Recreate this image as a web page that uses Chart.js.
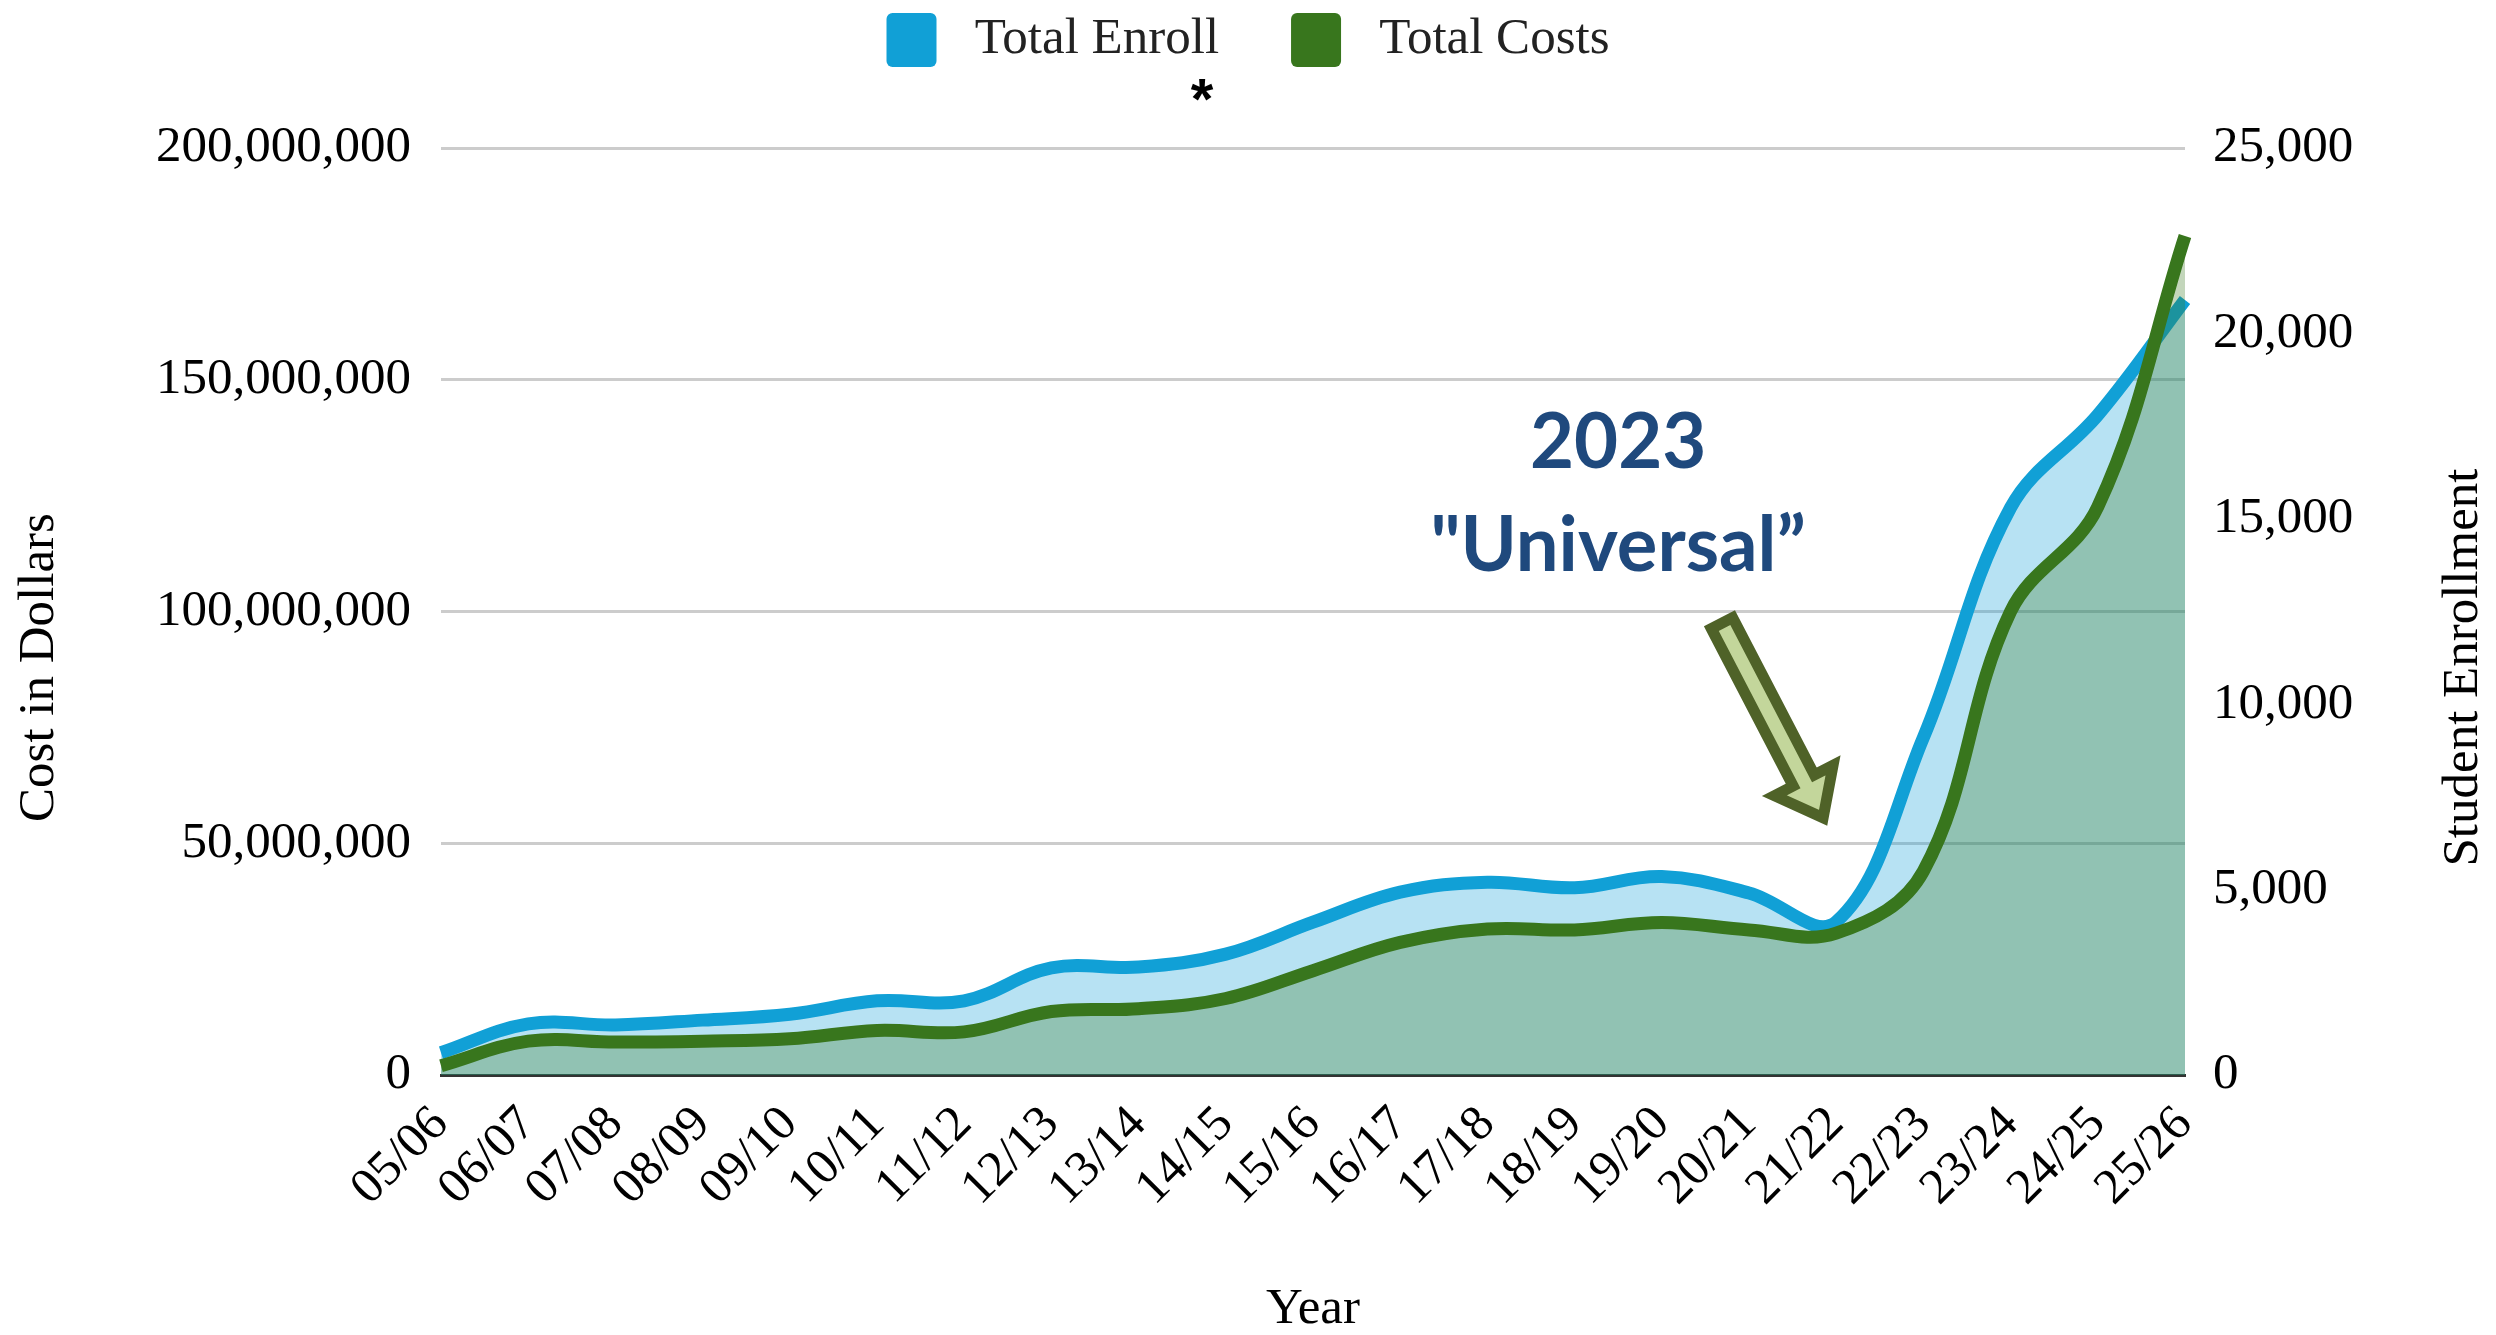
<!DOCTYPE html>
<html>
<head>
<meta charset="utf-8">
<script src="https://cdn.jsdelivr.net/npm/chart.js@4.4.1/dist/chart.umd.min.js"></script>
<style>
  html, body { margin: 0; padding: 0; background: #fff; }
</style>
</head>
<body>
<canvas id="chart" width="2496" height="1335"></canvas>
<script>
const years = ['05/06', '06/07', '07/08', '08/09', '09/10', '10/11', '11/12', '12/13', '13/14', '14/15',
  '15/16', '16/17', '17/18', '18/19', '19/20', '20/21', '21/22', '22/23', '23/24', '24/25', '25/26'];
const totalEnroll = [600, 1380, 1350, 1480, 1640, 2000, 2000, 2890, 2910, 3260,
  4120, 4930, 5200, 5050, 5350, 4910, 4130, 9100, 15300, 17800, 20900];
const totalCosts = [2000000, 7300000, 7100000, 7300000, 7800000, 9600000, 9300000, 13700000, 14300000, 16500000,
  22500000, 28600000, 31500000, 31300000, 32900000, 31300000, 30600000, 44000000, 100000000, 122600000, 181000000];
const costMax = 200000000, costStep = 50000000;
const enrollMax = 25000, enrollStep = 5000;

const serif = '"Liberation Serif", "Times New Roman", serif';
Chart.defaults.font.family = serif;
Chart.defaults.font.size = 51;
Chart.defaults.color = '#000';

// legend sits lower than the default, leave room under it
const legendGap = {
  id: 'legendGap',
  beforeInit(chart) {
    const fit = chart.legend.fit;
    chart.legend.fit = function () { fit.call(this); this.height += 71; };
  }
};

// y titles read bottom-to-top on both sides, centred on the canvas
const sideTitles = {
  id: 'sideTitles',
  afterDraw(chart) {
    const ctx = chart.ctx;
    ctx.save();
    ctx.font = '51px ' + serif;
    ctx.fillStyle = '#000';
    ctx.textAlign = 'center';
    ctx.textBaseline = 'middle';
    [[40, 'Cost in Dollars'], [chart.width - 32, 'Student Enrollment']].forEach(([x, t]) => {
      ctx.save();
      ctx.translate(x, chart.height / 2);
      ctx.rotate(-Math.PI / 2);
      ctx.fillText(t, 0, 0);
      ctx.restore();
    });
    ctx.restore();
  }
};

function centredText(ctx, text, x, cy) {
  const m = ctx.measureText(text);
  ctx.fillText(text, x, cy + (m.actualBoundingBoxAscent - m.actualBoundingBoxDescent) / 2);
}

const callout = {
  id: 'callout',
  afterDatasetsDraw(chart) {
    const ctx = chart.ctx;
    const xs = chart.scales.x, ys = chart.scales.y;
    ctx.save();
    ctx.fillStyle = '#1F497D';
    ctx.textAlign = 'center';
    ctx.font = 'bold 76px Lato, "Open Sans", sans-serif';
    centredText(ctx, '2023', xs.getPixelForValue(13.5), ys.getPixelForValue(137e6));
    centredText(ctx, '"Universal\u201D', xs.getPixelForValue(13.5), ys.getPixelForValue(115e6));

    // block arrow pointing at 21/22
    const tx = xs.getPixelForValue(14.69), ty = ys.getPixelForValue(97.5e6);
    const px = xs.getPixelForValue(15.85), py = ys.getPixelForValue(55.5e6);
    const len = Math.hypot(px - tx, py - ty);
    const ux = (px - tx) / len, uy = (py - ty) / len;
    const nx = -uy, ny = ux;
    const w1 = 12, w2 = 33, h = 42;
    const bx = px - ux * h, by = py - uy * h;
    ctx.beginPath();
    ctx.moveTo(tx + nx * w1, ty + ny * w1);
    ctx.lineTo(bx + nx * w1, by + ny * w1);
    ctx.lineTo(bx + nx * w2, by + ny * w2);
    ctx.lineTo(px, py);
    ctx.lineTo(bx - nx * w2, by - ny * w2);
    ctx.lineTo(bx - nx * w1, by - ny * w1);
    ctx.lineTo(tx - nx * w1, ty - ny * w1);
    ctx.closePath();
    ctx.fillStyle = '#C3D69B';
    ctx.fill();
    ctx.lineWidth = 11;
    ctx.lineJoin = 'miter';
    ctx.strokeStyle = '#4F6228';
    ctx.stroke();

    ctx.fillStyle = '#000';
    ctx.font = 'bold 58px "Liberation Sans", sans-serif';
    centredText(ctx, '*', 1202, 90);
    ctx.restore();
  }
};

new Chart(document.getElementById('chart'), {
  type: 'line',
  data: {
    labels: years,
    datasets: [{
      label: 'Total Enroll',
      data: totalEnroll,
      yAxisID: 'y1',
      borderColor: '#11A0D6',
      backgroundColor: 'rgba(17,160,214,0.3)',
      fill: 'origin',
      borderWidth: 13,
      tension: 0.38,
      pointRadius: 0,
      order: 2
    }, {
      label: 'Total Costs',
      data: totalCosts,
      yAxisID: 'y',
      borderColor: '#38761D',
      backgroundColor: 'rgba(56,118,29,0.3)',
      fill: 'origin',
      borderWidth: 13,
      tension: 0.38,
      pointRadius: 0,
      order: 1
    }]
  },
  options: {
    responsive: false,
    animation: false,
    devicePixelRatio: 1,
    layout: { padding: { top: -59, left: 0, right: 0, bottom: 0 } },
    plugins: {
      tooltip: { enabled: false },
      legend: {
        position: 'top',
        labels: {
          boxWidth: 50,
          boxHeight: 54,
          useBorderRadius: true,
          borderRadius: 6,
          padding: 72,
          color: '#222',
          font: { size: 51 },
          sort: (a, b) => a.datasetIndex - b.datasetIndex,
          generateLabels(chart) {
            const items = Chart.defaults.plugins.legend.labels.generateLabels(chart);
            items.forEach(it => {
              it.fillStyle = it.strokeStyle;
              it.lineWidth = 0;
              it.text = ' ' + it.text; // a bit more room between swatch and text
            });
            return items;
          }
        }
      }
    },
    scales: {
      x: {
        grid: { display: false },
        border: { display: true, color: '#333', width: 3 },
        ticks: { autoSkip: false, maxRotation: 45, minRotation: 45, padding: 12, font: { size: 50 } },
        title: { display: true, text: 'Year', font: { size: 51, lineHeight: 1 }, padding: { top: 0, bottom: 0 } },
        afterFit(scale) { scale.height = 260; }
      },
      y: {
        position: 'left',
        min: 0,
        max: costMax,
        grid: { color: '#cccccc', lineWidth: 3, drawTicks: false },
        border: { display: false },
        ticks: { stepSize: costStep, padding: 30, callback: v => v.toLocaleString('en-US') },
        afterFit(scale) { scale.width = 441; }
      },
      y1: {
        position: 'right',
        min: 0,
        max: enrollMax,
        grid: { display: false, drawTicks: false },
        border: { display: false },
        ticks: { stepSize: enrollStep, padding: 28, callback: v => v.toLocaleString('en-US') },
        afterFit(scale) { scale.width = 311; }
      }
    }
  },
  plugins: [legendGap, sideTitles, callout]
});
</script>
</body>
</html>
